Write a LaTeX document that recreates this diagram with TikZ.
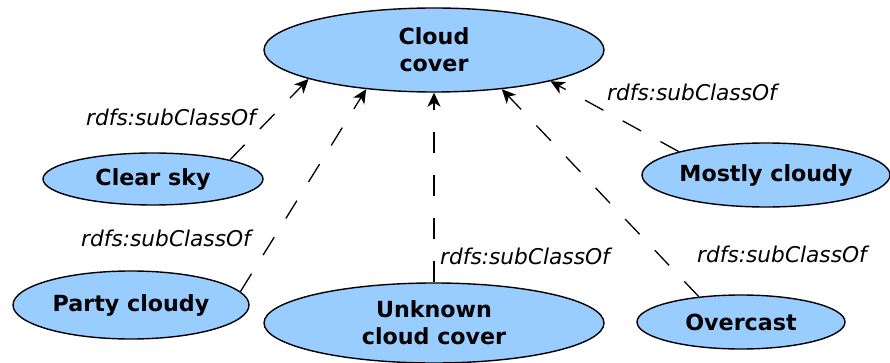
\documentclass[tikz,border=0pt]{standalone}
\usepackage{fontspec}
\setmainfont{DejaVu Sans}
\usetikzlibrary{shapes.geometric,arrows.meta}
\definecolor{classfill}{HTML}{99CCFF}
\tikzset{
  cls/.style={ellipse, draw=black, line width=1.4pt, fill=classfill, inner sep=0pt,
    align=center, font=\fontsize{22.2}{27}\selectfont\bfseries},
  subcls/.style={line width=1.3pt, dash pattern=on 21pt off 22pt,
    -{Stealth[length=14pt,width=13pt,inset=4pt]}},
  rel/.style={inner sep=0pt, anchor=base, font=\fontsize{21.7}{27}\selectfont\itshape}
}
\begin{document}
\begin{tikzpicture}[x=1pt,y=-1pt]
  \useasboundingbox (0,0) rectangle (890,363);

  % classes
  \node[cls, minimum width=340pt, minimum height=84pt] (cloud)   at (434,50)  {Cloud\\cover};
  \node[cls, minimum width=220pt, minimum height=52pt] (clear)   at (153,179) {Clear sky};
  \node[cls, minimum width=236pt, minimum height=68pt] (party)   at (131,305) {Party cloudy};
  \node[cls, minimum width=340pt, minimum height=80pt] (unknown) at (434,323) {Unknown\\cloud cover};
  \node[cls, minimum width=248pt, minimum height=64pt] (mostly)  at (766,175) {Mostly cloudy};
  \node[cls, minimum width=208pt, minimum height=54pt] (over)    at (741,322) {Overcast};

  % subclass relations
  \draw[subcls] (clear.14)   -- (cloud.193.5);
  \draw[subcls] (party.7)    -- (cloud.210);
  \draw[subcls] (unknown.90) -- (cloud.270);
  \draw[subcls] (over.149)   -- (cloud.330);
  \draw[subcls] (mostly.165) -- (cloud.345);

  % relation labels
  \node[rel] (l1) at (171,126) {rdfs:subClassOf};
  \node[rel] (l2) at (166,246) {rdfs:subClassOf};
  \node[rel] (l3) at (525,264) {rdfs:subClassOf};
  \node[rel] (l4) at (692,101) {rdfs:subClassOf};
  \node[rel] (l5) at (782,262) {rdfs:subClassOf};
\end{tikzpicture}
\end{document}
